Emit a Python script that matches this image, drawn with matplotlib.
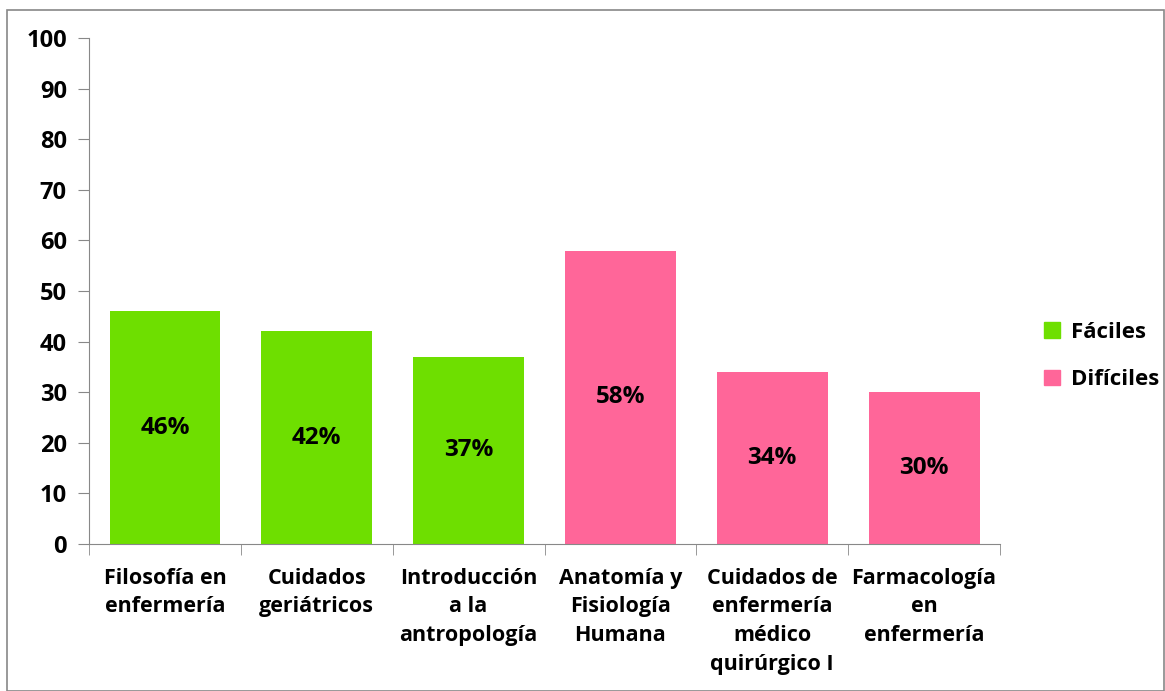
import matplotlib.pyplot as plt
import numpy as np
from matplotlib.patches import Patch, Rectangle

categorias = ['Filosofía en\nenfermería', 'Cuidados\ngeriátricos', 'Introducción\na la\nantropología',
              'Anatomía y\nFisiología\nHumana', 'Cuidados de\nenfermería\nmédico\nquirúrgico I',
              'Farmacología\nen\nenfermería']
valores = [46, 42, 37, 58, 34, 30]
grupos = ['Fáciles', 'Fáciles', 'Fáciles', 'Difíciles', 'Difíciles', 'Difíciles']
colores_grupo = {'Fáciles': '#6EDF00', 'Difíciles': '#FF6699'}

plt.rcParams['font.family'] = ['Open Sans', 'DejaVu Sans']
plt.rcParams['font.weight'] = 'bold'

fig = plt.figure(figsize=(11.65, 6.91), dpi=100)
ax = fig.add_axes([0.0764, 0.2127, 0.782, 0.7323])

x = np.arange(len(categorias))
cols = [colores_grupo[g] for g in grupos]
ax.bar(x, valores, width=0.73, color=cols)

for xi, v in zip(x, valores):
    ax.text(xi, v / 2, f'{v}%', ha='center', va='center', fontsize=17.5, fontweight='bold')

ax.set_xlim(-0.5, len(categorias) - 0.5)
ax.set_ylim(0, 100)
ax.set_yticks(range(0, 101, 10))
ax.set_xticks(x)
ax.set_xticklabels(categorias, fontsize=15.5, fontweight='bold', linespacing=1.48)
ax.set_xticks(np.arange(-0.5, len(categorias)), minor=True)
ax.tick_params(axis='x', which='major', length=0, pad=17)
ax.tick_params(axis='x', which='minor', length=8, color='#888888', direction='out')
ax.tick_params(axis='y', length=8, color='#888888', labelsize=17, pad=8)
for lab in ax.get_yticklabels():
    lab.set_fontweight('bold')

for s in ['top', 'right']:
    ax.spines[s].set_visible(False)
for s in ['left', 'bottom']:
    ax.spines[s].set_color('#888888')

handles = [Patch(color=c, label=g) for g, c in colores_grupo.items()]
leg = fig.legend(handles=handles, loc='center left', bbox_to_anchor=(0.879, 0.485),
                 frameon=False, fontsize=16, handlelength=0.7, handleheight=0.7,
                 handletextpad=0.5, labelspacing=1.2)

fig.patches.append(Rectangle((0.006, 0.0), 0.993, 0.985, transform=fig.transFigure,
                             fill=False, edgecolor='#888888', linewidth=1.2))

fig.savefig('out.png', dpi=100)
